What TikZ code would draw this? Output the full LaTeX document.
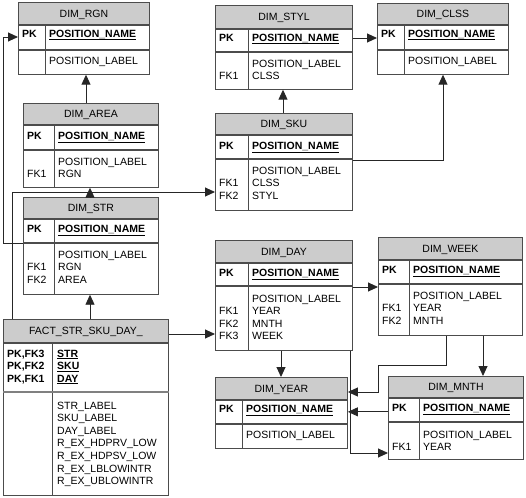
\documentclass[tikz,border=0pt]{standalone}
\usepackage{fontspec}
\setmainfont{Liberation Sans}
\usetikzlibrary{arrows.meta}

\newcommand{\tabfont}{\fontsize{10.5}{12.6}\selectfont}
\newcommand{\posname}{\textbf{\underline{POSITION\_NAME}}}

\tikzset{
  hdr/.style={draw=black!70, fill=black!20, line width=0.9pt, anchor=north west, inner sep=0pt, font=\tabfont, text height=7.6pt, text depth=0pt},
  row/.style={draw=black!70, line width=0.9pt, anchor=north west, inner sep=0pt},
  sepline/.style={draw=black!70, line width=0.9pt},
  key/.style={anchor=north west, inner sep=0pt, align=left, font=\tabfont\bfseries},
  fld/.style={anchor=north west, inner sep=0pt, align=left, font=\tabfont},
  fk/.style={draw=black!85, line width=0.9pt, -{Triangle[length=10pt,width=9pt]}},
}

\begin{document}
\begin{tikzpicture}[x=1pt,y=1pt,yscale=-1,xscale=1]
\useasboundingbox (0,0) rectangle (526,497);

%Shape: Table [DIM_RGN]
\node[hdr, minimum width=131pt, minimum height=22pt] (rgn) at (18,2) {DIM\_RGN};
\node[row, minimum width=131pt, minimum height=24pt] (rgn-k) at (rgn.south west) {};
\node[row, minimum width=131pt, minimum height=24pt] (rgn-a) at (rgn-k.south west) {};
\draw[sepline] (rgn-k.north -| 45,0) -- (rgn-a.south -| 45,0);
% Text Node
\node[key] (rgn-pk) at (22,28) {\strut PK};
\node[fld] (rgn-pn) at (49,28) {\strut\posname};
\node[fld] (rgn-fl) at (49,55) {\strut POSITION\_LABEL};

%Shape: Table [DIM_AREA]
\node[hdr, minimum width=135pt, minimum height=21pt] (area) at (23,103) {DIM\_AREA};
\node[row, minimum width=135pt, minimum height=24pt] (area-k) at (area.south west) {};
\node[row, minimum width=135pt, minimum height=37pt] (area-a) at (area-k.south west) {};
\draw[sepline] (area-k.north -| 54,0) -- (area-a.south -| 54,0);
% Text Node
\node[key] (area-pk) at (27,130) {\strut PK};
\node[fld] (area-pn) at (58,130) {\strut\posname};
\node[fld] (area-fk) at (27,156) {\strut\\FK1};
\node[fld] (area-fl) at (58,156) {\strut POSITION\_LABEL\\RGN};

%Shape: Table [DIM_STR]
\node[hdr, minimum width=135pt, minimum height=21pt] (str) at (23,197) {DIM\_STR};
\node[row, minimum width=135pt, minimum height=23pt] (str-k) at (str.south west) {};
\node[row, minimum width=135pt, minimum height=51pt] (str-a) at (str-k.south west) {};
\draw[sepline] (str-k.north -| 54,0) -- (str-a.south -| 54,0);
% Text Node
\node[key] (str-pk) at (27,223) {\strut PK};
\node[fld] (str-pn) at (58,223) {\strut\posname};
\node[fld] (str-fk) at (27,249) {\strut\\FK1\\FK2};
\node[fld] (str-fl) at (58,249) {\strut POSITION\_LABEL\\RGN\\AREA};

%Shape: Table [FACT_STR_SKU_DAY_]
\node[hdr, minimum width=165pt, minimum height=23pt] (fact) at (3,319) {FACT\_STR\_SKU\_DAY\_};
\node[row, minimum width=165pt, minimum height=48pt] (fact-k) at (fact.south west) {};
\node[row, minimum width=165pt, minimum height=103pt] (fact-a) at (fact-k.south west) {};
\draw[sepline] (fact-k.north -| 52,0) -- (fact-a.south -| 52,0);
\draw[draw=black!50, line width=2pt] (fact-k.south west) -- (fact-k.south east);
% Text Node
\node[key] (fact-pk) at (7,348) {\strut PK,FK3\\PK,FK2\\PK,FK1};
\node[key] (fact-pn) at (57,348) {\strut\underline{STR}\\\underline{SKU}\\\underline{DAY}};
\node[fld] (fact-fl) at (57,400) {\strut STR\_LABEL\\SKU\_LABEL\\DAY\_LABEL\\R\_EX\_HDPRV\_LOW\\R\_EX\_HDPSV\_LOW\\R\_EX\_LBLOWINTR\\R\_EX\_UBLOWINTR};

%Shape: Table [DIM_STYL]
\node[hdr, minimum width=137pt, minimum height=23pt] (styl) at (215,5) {DIM\_STYL};
\node[row, minimum width=137pt, minimum height=22pt] (styl-k) at (styl.south west) {};
\node[row, minimum width=137pt, minimum height=37pt] (styl-a) at (styl-k.south west) {};
\draw[sepline] (styl-k.north -| 248,0) -- (styl-a.south -| 248,0);
% Text Node
\node[key] (styl-pk) at (219,32) {\strut PK};
\node[fld] (styl-pn) at (252,32) {\strut\posname};
\node[fld] (styl-fk) at (219,58) {\strut\\FK1};
\node[fld] (styl-fl) at (252,58) {\strut POSITION\_LABEL\\CLSS};

%Shape: Table [DIM_CLSS]
\node[hdr, minimum width=131pt, minimum height=21pt] (clss) at (377,3) {DIM\_CLSS};
\node[row, minimum width=131pt, minimum height=24pt] (clss-k) at (clss.south west) {};
\node[row, minimum width=131pt, minimum height=24pt] (clss-a) at (clss-k.south west) {};
\draw[sepline] (clss-k.north -| 404,0) -- (clss-a.south -| 404,0);
% Text Node
\node[key] (clss-pk) at (381,28) {\strut PK};
\node[fld] (clss-pn) at (408,28) {\strut\posname};
\node[fld] (clss-fl) at (408,55) {\strut POSITION\_LABEL};

%Shape: Table [DIM_SKU]
\node[hdr, minimum width=137pt, minimum height=21pt] (sku) at (215,113) {DIM\_SKU};
\node[row, minimum width=137pt, minimum height=23pt] (sku-k) at (sku.south west) {};
\node[row, minimum width=137pt, minimum height=51pt] (sku-a) at (sku-k.south west) {};
\draw[sepline] (sku-k.north -| 248,0) -- (sku-a.south -| 248,0);
% Text Node
\node[key] (sku-pk) at (219,140) {\strut PK};
\node[fld] (sku-pn) at (252,140) {\strut\posname};
\node[fld] (sku-fk) at (219,165) {\strut\\FK1\\FK2};
\node[fld] (sku-fl) at (252,165) {\strut POSITION\_LABEL\\CLSS\\STYL};

%Shape: Table [DIM_DAY]
\node[hdr, minimum width=137pt, minimum height=22pt] (day) at (215,240) {DIM\_DAY};
\node[row, minimum width=137pt, minimum height=22pt] (day-k) at (day.south west) {};
\node[row, minimum width=137pt, minimum height=64pt] (day-a) at (day-k.south west) {};
\draw[sepline] (day-k.north -| 248,0) -- (day-a.south -| 248,0);
% Text Node
\node[key] (day-pk) at (219,267) {\strut PK};
\node[fld] (day-pn) at (252,267) {\strut\posname};
\node[fld] (day-fk) at (219,293) {\strut\\FK1\\FK2\\FK3};
\node[fld] (day-fl) at (252,293) {\strut POSITION\_LABEL\\YEAR\\MNTH\\WEEK};

%Shape: Table [DIM_WEEK]
\node[hdr, minimum width=144pt, minimum height=22pt] (week) at (378,237) {DIM\_WEEK};
\node[row, minimum width=144pt, minimum height=23pt] (week-k) at (week.south west) {};
\node[row, minimum width=144pt, minimum height=51pt] (week-a) at (week-k.south west) {};
\draw[sepline] (week-k.north -| 409,0) -- (week-a.south -| 409,0);
% Text Node
\node[key] (week-pk) at (382,264) {\strut PK};
\node[fld] (week-pn) at (413,264) {\strut\posname};
\node[fld] (week-fk) at (382,290) {\strut\\FK1\\FK2};
\node[fld] (week-fl) at (413,290) {\strut POSITION\_LABEL\\YEAR\\MNTH};

%Shape: Table [DIM_YEAR]
\node[hdr, minimum width=132pt, minimum height=22pt] (year) at (215,377) {DIM\_YEAR};
\node[row, minimum width=132pt, minimum height=23pt] (year-k) at (year.south west) {};
\node[row, minimum width=132pt, minimum height=24pt] (year-a) at (year-k.south west) {};
\draw[sepline] (year-k.north -| 242,0) -- (year-a.south -| 242,0);
% Text Node
\node[key] (year-pk) at (219,403) {\strut PK};
\node[fld] (year-pn) at (246,403) {\strut\posname};
\node[fld] (year-fl) at (246,429) {\strut POSITION\_LABEL};

%Shape: Table [DIM_MNTH]
\node[hdr, minimum width=135pt, minimum height=21pt] (mnth) at (388,376) {DIM\_MNTH};
\node[row, minimum width=135pt, minimum height=23pt] (mnth-k) at (mnth.south west) {};
\node[row, minimum width=135pt, minimum height=37pt] (mnth-a) at (mnth-k.south west) {};
\draw[sepline] (mnth-k.north -| 419,0) -- (mnth-a.south -| 419,0);
% Text Node
\node[key] (mnth-pk) at (392,402) {\strut PK};
\node[fld] (mnth-pn) at (423,402) {\strut\posname};
\node[fld] (mnth-fk) at (392,429) {\strut\\FK1};
\node[fld] (mnth-fl) at (423,429) {\strut POSITION\_LABEL\\YEAR};

% Connectors
\draw[fk] (area.north -| 86,0) -- (rgn-a.south -| 86,0);
\draw[fk] (str.north -| 90,0) -- (area-a.south -| 90,0);
\draw[fk] (str-a.west |- 0,243) -- (3,243) |- (rgn-k.west |- 0,37);
\draw[fk] (fact.north -| 12,0) |- (sku-a.west |- 0,192);
\draw[fk] (fact.north -| 90,0) -- (str-a.south -| 90,0);
\draw[fk] (fact.east |- 0,334) -- (day-a.west |- 0,334);
\draw[fk] (sku.north -| 283,0) -- (styl-a.south -| 283,0);
\draw[fk] (sku-a.east |- 0,160) -| (clss-a.south -| 443,0);
\draw[fk] (styl-k.east |- 0,38) -- (clss-k.west |- 0,38);
\draw[fk] (day-a.east |- 0,287) -- (week-a.west |- 0,287);
\draw[fk] (day-a.south -| 281,0) -- (year.north -| 281,0);
\draw[fk] (day-a.south -| 350,0) |- (mnth-a.west |- 0,453);
\draw[fk] (week-a.south -| 446,0) |- (378,365) |- (year.east |- 0,392);
\draw[fk] (week-a.south -| 483,0) -- (mnth.north -| 483,0);
\draw[fk] (mnth-k.west |- year-k.east) -- (year-k.east);

\end{tikzpicture}
\end{document}
